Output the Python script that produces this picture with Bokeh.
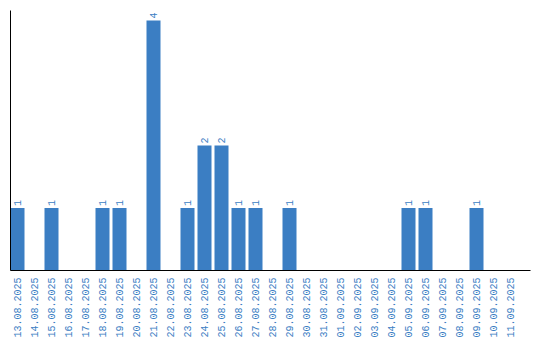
import math
from bokeh.plotting import figure
from bokeh.models import ColumnDataSource, Range1d, FixedTicker
from bokeh.core.properties import value
from bokeh.embed import file_html
from bokeh.resources import INLINE

dates = ["13.08.2025", "14.08.2025", "15.08.2025", "16.08.2025", "17.08.2025",
         "18.08.2025", "19.08.2025", "20.08.2025", "21.08.2025", "22.08.2025",
         "23.08.2025", "24.08.2025", "25.08.2025", "26.08.2025", "27.08.2025",
         "28.08.2025", "29.08.2025", "30.08.2025", "31.08.2025", "01.09.2025",
         "02.09.2025", "03.09.2025", "04.09.2025", "05.09.2025", "06.09.2025",
         "07.09.2025", "08.09.2025", "09.09.2025", "10.09.2025", "11.09.2025"]
counts = [1, 0, 1, 0, 0, 1, 1, 0, 4, 0,
          1, 2, 2, 1, 1, 0, 1, 0, 0, 0,
          0, 0, 0, 1, 1, 0, 0, 1, 0, 0]

BLUE = "#3b7ec3"
band = 17.0
barw = 14.0 / band

xs = list(range(len(dates)))
src = ColumnDataSource(dict(x=xs, top=counts))
nz = [i for i, c in enumerate(counts) if c > 0]
lbl = ColumnDataSource(dict(x=[xs[i] for i in nz], y=[counts[i] for i in nz],
                            t=[str(counts[i]) for i in nz]))

p = figure(width=540, height=340, output_backend="svg", toolbar_location=None,
           x_range=Range1d(-7 / band, 520 / band - 7 / band),
           y_range=Range1d(0, 260 / 62.5),
           min_border_left=10, min_border_right=10, min_border_top=10,
           min_border_bottom=0)
p.outline_line_color = None
p.grid.visible = False
p.background_fill_color = "white"
p.border_fill_color = "white"

p.vbar(x="x", top="top", width=barw, bottom=0, source=src,
       fill_color=BLUE, line_color=None)
p.text(x="x", y="y", text="t", source=lbl, angle=math.pi / 2,
       text_align="left", text_baseline="middle", y_offset=-2,
       text_font=value("Liberation Mono"), text_font_size="10px",
       text_color=BLUE)

xa = p.xaxis[0]
xa.ticker = FixedTicker(ticks=xs)
xa.major_label_overrides = {i: d for i, d in enumerate(dates)}
xa.major_label_orientation = math.pi / 2
xa.major_label_text_font = "Liberation Mono"
xa.major_label_text_font_size = "10px"
xa.major_label_text_color = BLUE
xa.major_tick_line_color = None
xa.minor_tick_line_color = None
xa.major_tick_out = 0
xa.major_tick_in = 0
xa.axis_line_color = "black"
xa.major_label_standoff = 7
xa.axis_label_standoff = 0

ya = p.yaxis[0]
ya.ticker = FixedTicker(ticks=[])
ya.major_tick_line_color = None
ya.minor_tick_line_color = None
ya.major_label_text_font_size = "0px"
ya.axis_line_color = "black"
ya.major_tick_out = 0
ya.major_label_standoff = 0

open("out.html", "w").write(file_html(p, INLINE))
